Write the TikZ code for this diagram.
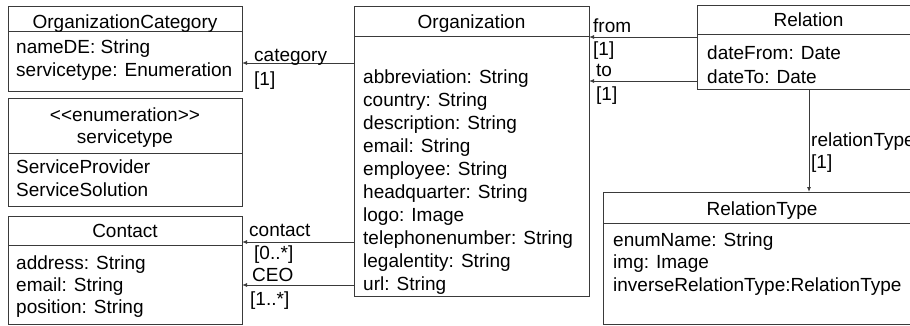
\documentclass[tikz,border=0pt]{standalone}
\usepackage{fontspec}
\setmainfont{Liberation Sans}
\usetikzlibrary{arrows.meta}
\usetikzlibrary{positioning}

\definecolor{umlline}{HTML}{3A3A3A}

\begin{document}
\begin{tikzpicture}[x=1pt,y=-1pt,
        font=\fontsize{19}{23}\selectfont,
        classbox/.style={draw=umlline,line width=0.9pt,anchor=north west,inner sep=0pt,outer sep=0pt},
        divider/.style={draw=umlline,line width=0.9pt},
        title/.style={anchor=base,inner sep=0pt},
        attr/.style={anchor=base west,inner sep=0pt},
        role/.style={anchor=base west,inner sep=0pt},
        assoc/.style={draw=umlline,line width=0.9pt,-{Latex[length=5pt,width=4pt]}}]
        \useasboundingbox (0,0) rectangle (910,325);
        \clip (0,0) rectangle (910,325);
        % class boxes
        \node[classbox,minimum width=234pt,minimum height=85pt] (orgcat) at (8,6) {};
        \node[classbox,minimum width=234pt,minimum height=108pt] (servtype) at (8,98) {};
        \node[classbox,minimum width=234pt,minimum height=108pt] (contact) at (8,216) {};
        \node[classbox,minimum width=235pt,minimum height=290pt] (org) at (354,6) {};
        \node[classbox,minimum width=223pt,minimum height=84pt] (relation) at (697,5) {};
        \node[classbox,minimum width=318pt,minimum height=132pt] (reltype) at (603,192) {};
        \draw[divider] (orgcat.west |- 0,31) -- (orgcat.east |- 0,31);
        \draw[divider] (servtype.west |- 0,153) -- (servtype.east |- 0,153);
        \draw[divider] (contact.west |- 0,245) -- (contact.east |- 0,245);
        \draw[divider] (org.west |- 0,36) -- (org.east |- 0,36);
        \draw[divider] (relation.west |- 0,34) -- (relation.east |- 0,34);
        \draw[divider] (reltype.west |- 0,223) -- (reltype.east |- 0,223);
        % titles
        \node[title] (orgcattitle) at (orgcat.north |- 0,28) {OrganizationCategory};
        \node[title] (servstereo) at (servtype.north |- 0,121) {<\kern0pt<enumeration>\kern0pt>};
        \node[title] (servtitle) at (servtype.north |- 0,143) {servicetype};
        \node[title] (contacttitle) at (contact.north |- 0,237) {Contact};
        \node[title] (orgtitle) at (org.north |- 0,28) {Organization};
        \node[title] (relationtitle) at (relation.north |- 0,26) {Relation};
        \node[title] (reltypetitle) at (reltype.north |- 0,215) {RelationType};
        % attributes
        \node[attr] (orgcatname) at (16,53) {nameDE: String};
        \node[attr] (orgcatserv) at (16,76) {servicetype: Enumeration};
        \node[attr] (servprov) at (16,173) {ServiceProvider};
        \node[attr] (servsol) at (16,196) {ServiceSolution};
        \foreach \txt [count=\i from 0] in {address: String,email: String,position: String}
            \node[attr] (contactattr\i) at (16,{269+22*\i}) {\txt};
        \foreach \txt [count=\i from 0] in {abbreviation: String,country: String,description: String,
            email: String,employee: String,headquarter: String,logo: Image,
            telephonenumber: String,legalentity: String,url: String}
            \node[attr] (orgattr\i) at (363,{83+23*\i}) {\txt};
        \node[attr] (relfrom) at (707,59) {dateFrom: Date};
        \node[attr] (relto) at (707,83) {dateTo: Date};
        \foreach \txt [count=\i from 0] in {enumName: String,img: Image,inverseRelationType:RelationType}
            \node[attr] (reltypeattr\i) at (613,{246+22.5*\i}) {\txt};
        % associations
        \draw[assoc] (org.west |- 0,63) -- (orgcat.east |- 0,63);
        \draw[assoc] (org.west |- 0,242) -- (contact.east |- 0,242);
        \draw[assoc] (org.west |- 0,285) -- (contact.east |- 0,285);
        \draw[assoc] (relation.west |- 0,37) -- (org.east |- 0,37);
        \draw[assoc] (relation.west |- 0,81) -- (org.east |- 0,81);
        \draw[assoc] (relation.south -| 809,0) -- (reltype.north -| 809,0);
        % role names and multiplicities
        \node[role] (catrole) at (254,61) {category};
        \node[role] (catmult) at (254,85) {[1]};
        \node[role] (contactrole) at (249,236) {contact};
        \node[role] (contactmult) at (254,259) {[0..*]};
        \node[role] (ceorole) at (252,281) {CEO};
        \node[role] (ceomult) at (250,305) {[1..*]};
        \node[role] (fromrole) at (593,32) {from};
        \node[role] (frommult) at (593,55) {[1]};
        \node[role] (torole) at (596,76) {to};
        \node[role] (tomult) at (596,100) {[1]};
        \node[role] (typerole) at (811,146) {relationType};
        \node[role] (typemult) at (811,168) {[1]};
    \end{tikzpicture}
\end{document}
